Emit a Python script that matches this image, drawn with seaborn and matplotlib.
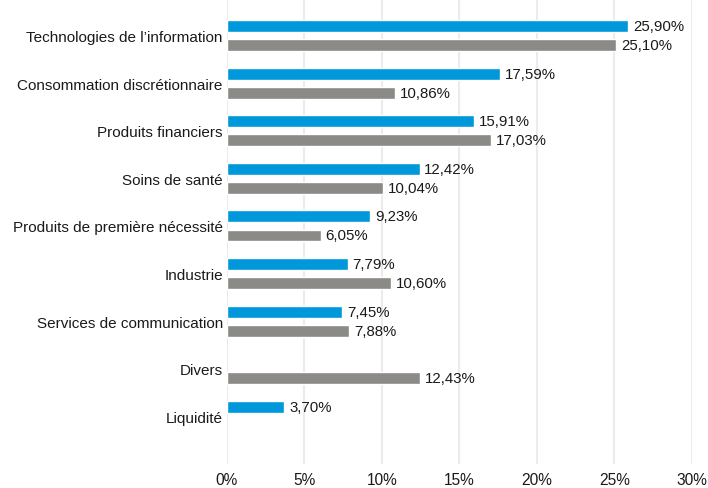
import matplotlib
matplotlib.use("Agg")
import matplotlib.pyplot as plt
import seaborn as sns
import pandas as pd
import numpy as np

categories = ["Technologies de l\u2019information", "Consommation discrétionnaire",
              "Produits financiers", "Soins de santé", "Produits de première nécessité",
              "Industrie", "Services de communication", "Divers", "Liquidité"]
series_names = ["Fonds", "Indice"]
fonds = [25.90, 17.59, 15.91, 12.42, 9.23, 7.79, 7.45, np.nan, 3.70]
indice = [25.10, 10.86, 17.03, 10.04, 6.05, 10.60, 7.88, 12.43, np.nan]
xticks = [0, 5, 10, 15, 20, 25, 30]

colors = ["#0098DA", "#8B8A86"]

sns.set_theme(style="white")
plt.rcParams["font.family"] = ["Liberation Sans", "DejaVu Sans"]

df = pd.DataFrame({
    "cat": categories * 2,
    "serie": [series_names[0]] * len(categories) + [series_names[1]] * len(categories),
    "val": fonds + indice,
})

fig = plt.figure(figsize=(7.08, 4.89), dpi=100)
ax = fig.add_axes([0.3206, 0.049, 0.6568, 0.951])
sns.barplot(data=df, y="cat", x="val", hue="serie", order=categories,
            hue_order=series_names, palette=colors, orient="h",
            width=0.8, gap=0.375, ax=ax, legend=False, saturation=1)

for patch in ax.patches:
    w = patch.get_width()
    if np.isnan(w) or w == 0:
        continue
    y = patch.get_y() + patch.get_height() / 2
    ax.annotate(f"{w:.2f}".replace(".", ",") + "%", (w, y), xytext=(3.5, 0),
                textcoords="offset points", va="center", ha="left",
                fontsize=10.8, color="#1a1a1a")

ax.set_xlim(0, 30)
ax.set_ylim(8 + 1.0, -0.767)
ax.set_xticks(xticks)
ax.set_xticklabels([f"{t}%" for t in xticks], fontsize=11.2, color="#1a1a1a")
ax.tick_params(axis="y", labelsize=11, labelcolor="#1a1a1a", length=0, pad=3)
ax.tick_params(axis="x", length=0, pad=6)
ax.grid(axis="x", color="#EBEBEB", linewidth=1.5)
ax.set_axisbelow(True)
for s in ax.spines.values():
    s.set_visible(False)
ax.set_xlabel("")
ax.set_ylabel("")

fig.savefig("out.png", dpi=100)
